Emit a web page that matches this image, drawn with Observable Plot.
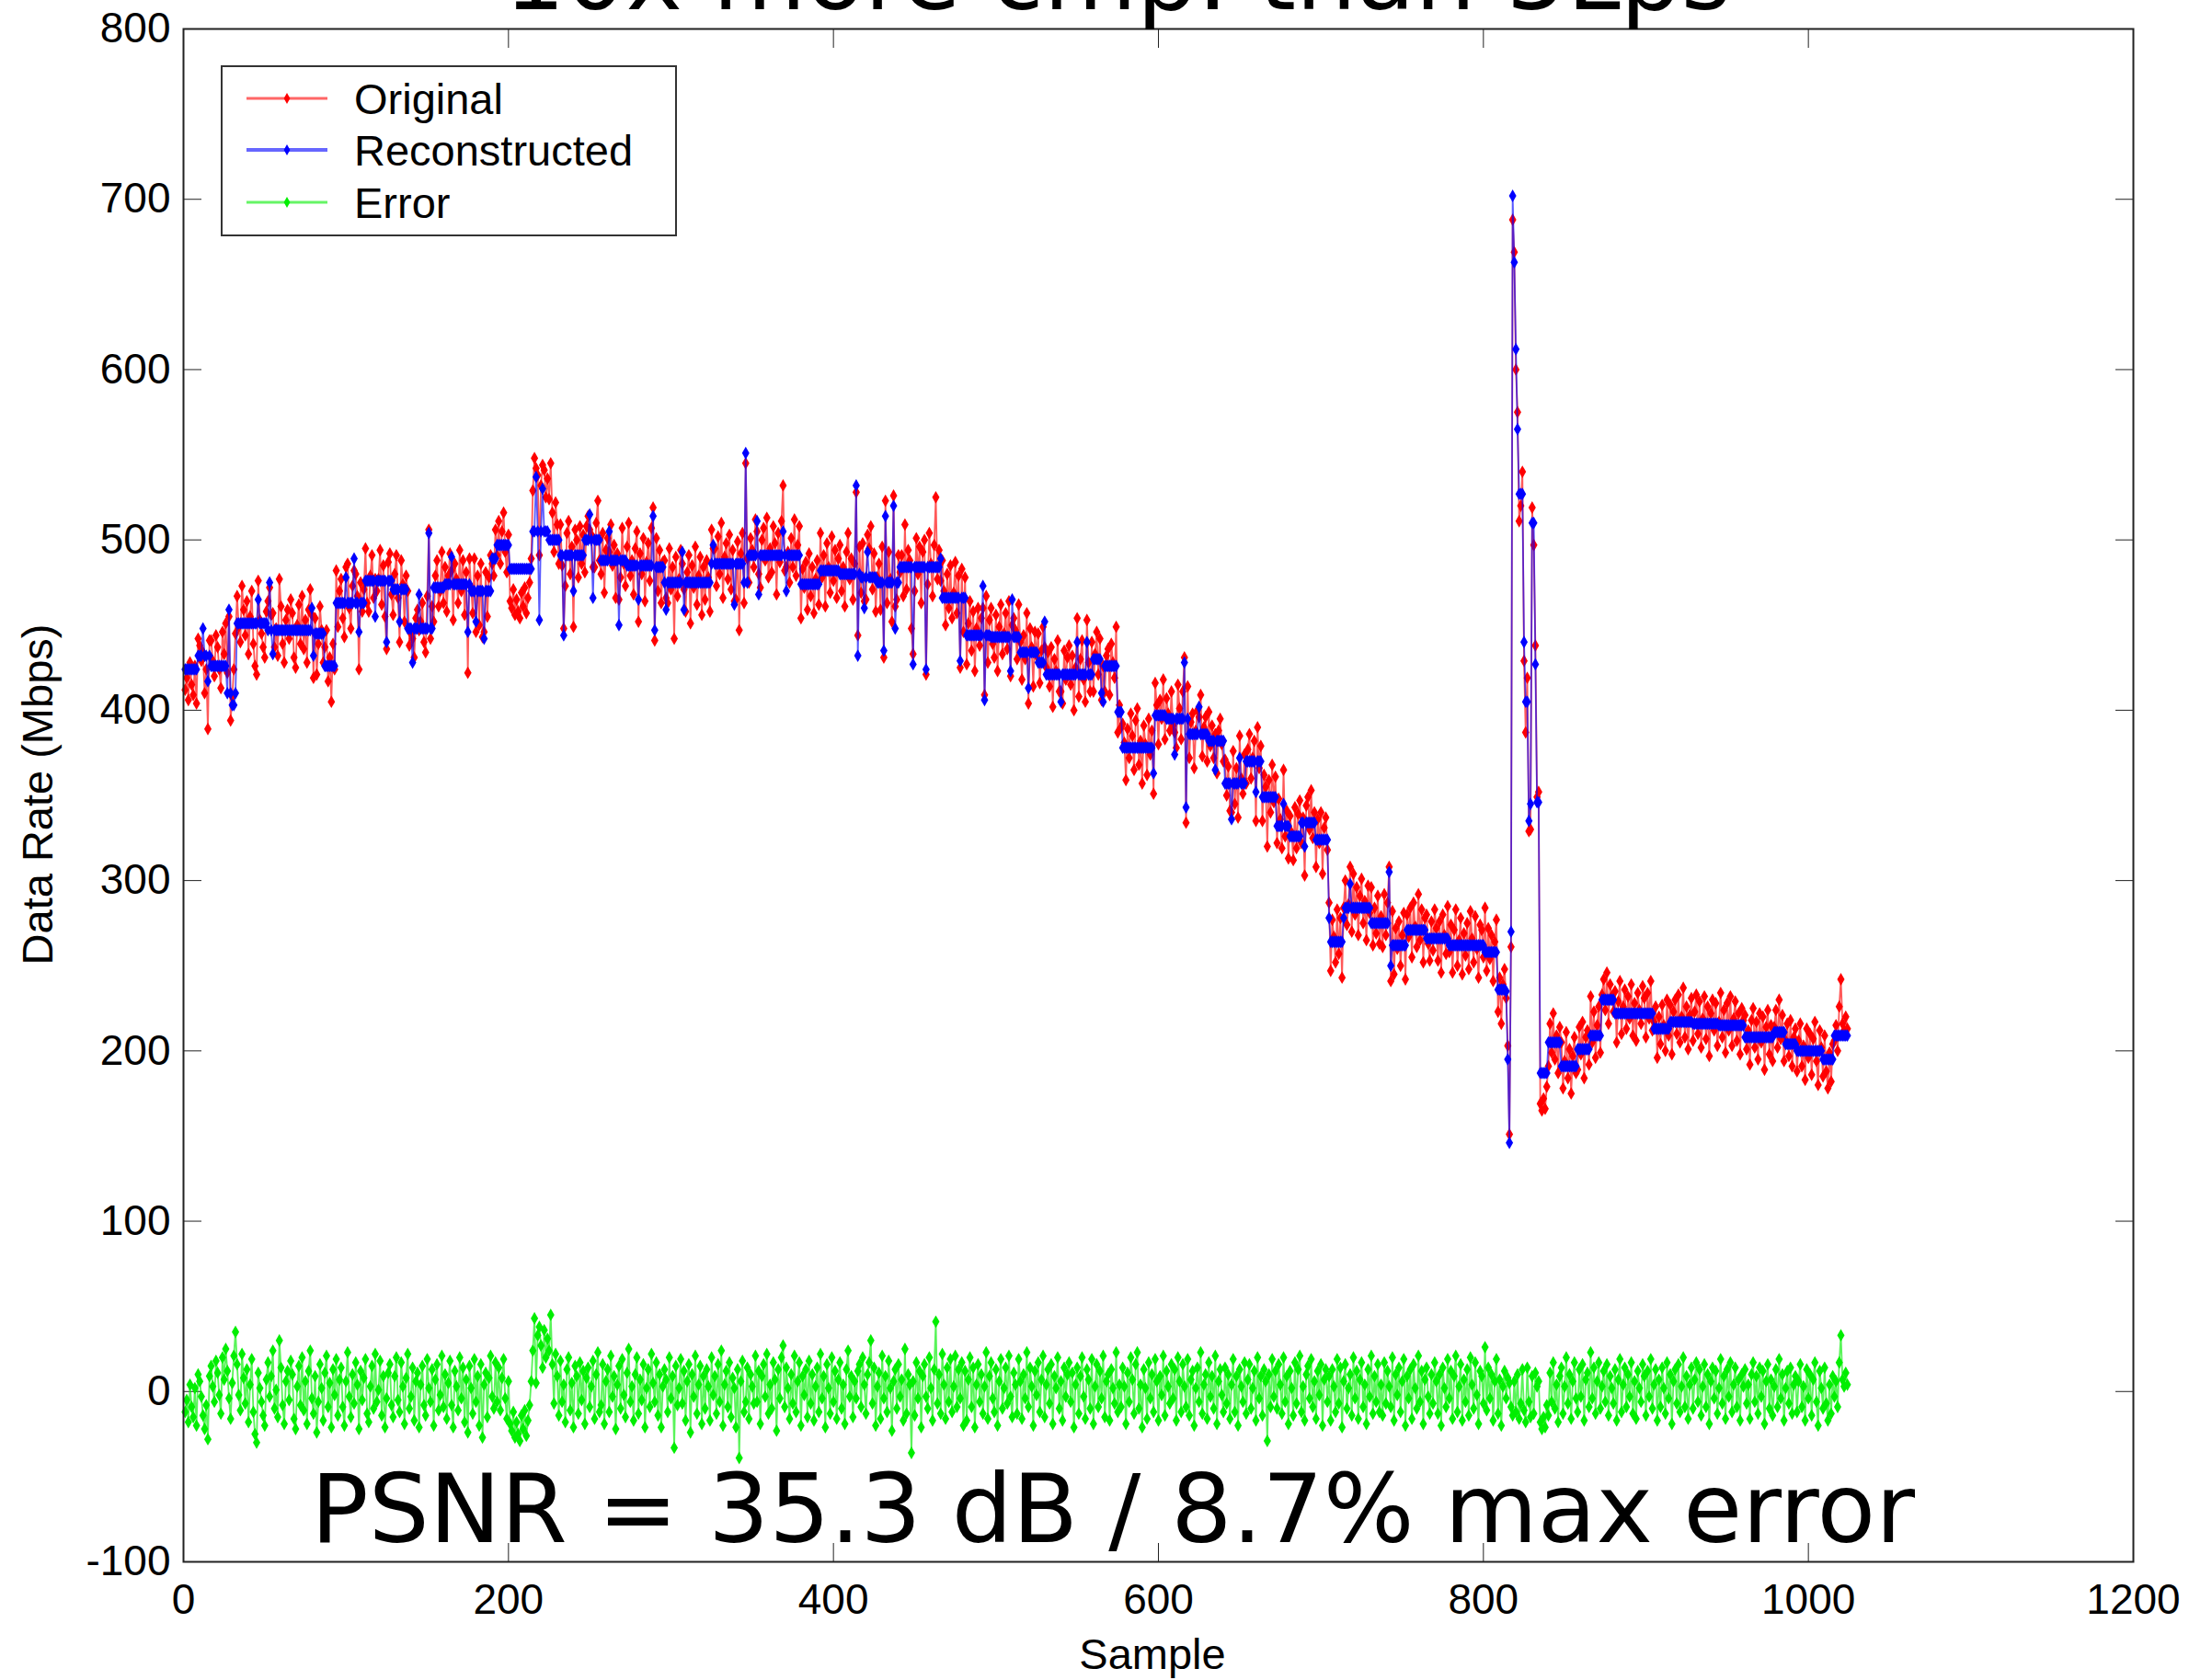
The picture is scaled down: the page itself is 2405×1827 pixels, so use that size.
<!DOCTYPE html>
<html>
<head>
<meta charset="utf-8">
<script src="https://cdn.jsdelivr.net/npm/d3@7"></script>
<script src="https://cdn.jsdelivr.net/npm/@observablehq/plot@0.6"></script>
<style>
  html, body { margin: 0; padding: 0; background: #fff; }
  #chart svg { display: block; }
</style>
</head>
<body>
<div id="chart"></div>
<script>
// Reconstructed data rate (Mbps), one value per sample, samples 1..1024
const reconstructed = [
424,424,424,424,424,424,424,424,432,432,432,448,432,432,417,432,426,426,426,426,426,426,426,426,426,426,410,459,410,403,403,410,
451,451,451,451,451,451,451,451,451,451,451,451,451,465,451,451,451,451,451,447,475,447,433,447,447,447,447,447,447,447,447,447,
447,447,447,447,447,447,447,447,447,447,447,447,447,447,460,432,445,445,445,445,445,445,426,426,426,426,426,426,426,463,463,463,
463,463,463,478,463,463,463,463,489,463,463,446,463,463,463,476,476,476,476,476,476,455,476,476,476,476,476,476,440,476,476,476,
471,471,471,471,452,471,471,471,471,448,448,448,428,448,448,448,468,448,448,448,448,448,504,448,448,472,472,472,472,472,472,472,
474,474,474,474,490,474,474,474,474,474,474,474,474,474,446,474,470,470,470,452,470,470,470,470,442,470,470,470,470,489,489,489,
497,497,497,497,497,497,497,497,483,483,483,483,483,483,483,483,483,483,483,483,483,483,505,505,537,505,453,505,530,505,505,505,
500,500,500,500,500,500,500,491,491,444,491,491,491,491,491,470,491,491,491,491,491,491,500,500,500,515,500,466,500,500,500,500,
488,488,488,488,488,505,488,488,488,488,488,450,488,488,488,488,485,485,485,485,485,485,485,465,485,485,485,485,485,485,485,485,
514,447,484,484,484,484,484,475,459,475,475,475,475,475,475,475,475,475,493,459,475,475,475,475,475,475,475,475,475,475,475,475,
475,475,475,475,486,497,486,486,486,486,486,486,486,486,486,486,486,486,462,486,486,486,486,486,475,551,475,491,491,491,491,491,
511,468,491,491,491,491,491,491,491,491,491,491,491,491,491,491,505,491,470,491,491,491,491,491,491,491,491,474,474,474,474,474,
474,474,474,474,474,474,474,482,482,482,482,482,482,482,482,482,482,482,482,480,480,480,480,480,480,480,480,480,480,532,432,480,
478,478,460,478,493,478,478,478,478,478,475,475,475,475,435,514,475,475,475,475,520,448,475,475,484,484,484,484,484,484,484,484,
427,484,484,484,484,484,484,484,424,484,484,484,484,484,484,484,484,489,466,466,466,466,466,466,466,466,466,466,466,429,466,466,
466,444,444,444,444,444,444,444,444,444,444,473,406,444,444,444,443,443,443,443,443,443,443,443,443,443,443,443,423,465,443,443,
443,443,434,434,434,434,434,413,434,434,434,434,434,428,428,428,428,452,421,421,421,421,421,421,421,421,421,405,421,421,421,421,
421,421,421,421,421,440,421,421,421,421,421,440,421,421,421,430,430,430,430,430,410,405,426,426,426,426,426,426,426,426,399,399,
399,378,378,378,378,378,378,378,378,378,378,378,378,378,378,378,378,378,378,378,363,397,397,397,397,397,397,397,395,395,395,395,
395,374,395,395,395,395,395,428,343,395,386,386,386,386,386,386,402,386,386,386,386,386,382,382,382,382,365,382,382,382,382,382,
357,357,357,357,336,357,357,357,357,372,357,357,357,370,370,370,370,370,370,352,370,370,370,349,349,349,349,349,349,349,349,349,
332,332,332,332,345,332,332,332,326,326,326,326,326,326,326,334,334,320,334,334,334,334,334,334,324,324,324,324,324,324,324,324,
278,264,264,264,264,264,264,264,264,278,284,284,284,298,284,284,284,284,284,284,284,284,284,284,284,284,275,275,275,275,275,275,
275,275,275,275,275,305,250,262,262,262,262,262,262,262,262,262,271,271,271,271,271,271,271,271,271,271,271,271,266,266,266,266,
266,266,266,266,266,266,266,266,266,266,262,262,262,262,262,262,262,262,262,262,262,262,262,262,262,262,262,262,262,262,262,262,
258,258,258,258,258,258,258,258,236,236,236,236,236,235,195,146,270,702,663,612,565,527,527,527,440,405,405,335,345,510,510,427,
346,346,187,187,187,187,187,205,205,205,205,205,205,205,205,191,191,191,191,191,191,191,191,191,191,201,201,201,201,201,201,201,
201,209,209,209,209,209,209,209,230,230,230,230,230,230,230,230,222,222,222,222,222,222,222,222,222,222,222,222,222,222,222,222,
222,222,222,222,222,222,222,222,213,213,213,213,213,213,213,213,213,213,217,217,217,217,217,217,217,217,217,217,217,217,217,217,
216,216,216,216,216,216,216,216,216,216,216,216,216,216,216,216,215,215,215,215,215,215,215,215,215,215,215,215,215,215,215,215,
208,208,208,208,208,208,208,208,208,208,208,208,208,208,208,208,208,208,211,211,211,211,211,211,211,204,204,204,204,204,204,204,
200,200,200,200,200,200,200,200,200,200,200,200,200,200,200,200,195,195,195,195,195,195,195,209,209,209,209,209,209,209,209,209
];

// Reconstruction error (Original − Reconstructed), Mbps, same samples
const error = [
-12,-5,-18,4,-9,-15,2,-20,10,6,-3,-14,-22,-8,-28,9,15,3,-6,18,11,-2,-13,20,7,25,12,-4,-16,5,21,35,
16,-2,-11,22,8,-7,13,-18,4,19,-12,-25,-30,11,2,-6,-14,-20,7,17,-3,9,24,-10,1,-15,30,14,-8,-19,6,12,
-5,18,10,-16,-22,3,15,-8,20,-11,6,-19,12,24,-4,-13,9,-24,-6,16,2,-17,11,21,-9,5,-21,13,-2,19,-14,7,
14,-9,-20,6,23,-3,-15,10,-7,17,4,-22,12,-5,8,19,-13,-18,3,15,-10,22,-6,1,18,-14,9,-21,-4,11,16,-8,
-15,9,20,-5,-12,17,3,-19,8,22,-10,-3,14,-17,6,11,-21,4,15,-8,-14,19,2,-6,13,-20,7,16,-11,-2,21,-9,
10,-16,5,18,-8,-21,12,3,-11,20,-4,14,-18,7,-24,15,2,-13,19,-6,9,-20,16,-27,4,11,-15,8,21,-3,-10,17,
-6,14,-11,8,19,-4,-16,6,-19,-23,-12,-27,-18,-25,-29,-14,-22,-11,-26,-17,-8,6,24,43,5,33,38,27,14,36,20,31,
24,45,16,-7,22,9,-14,18,-6,4,-18,13,20,-11,5,-21,15,9,-13,17,-5,12,-19,8,14,-9,3,18,-16,10,23,-12,
-8,16,-19,6,13,-12,21,-3,9,-22,4,15,-10,19,-2,-15,11,25,-6,3,-17,10,20,-13,7,-5,16,-21,2,13,-9,22,
5,-6,17,-14,10,-21,3,13,7,-12,20,-4,9,-33,15,-8,2,19,-7,12,-17,6,16,-24,10,-3,21,-13,4,15,-19,9,
-10,13,3,-17,20,-2,9,-13,16,-6,24,-20,4,12,-9,17,-15,8,2,-21,13,-39,6,18,-12,-6,14,-16,10,3,-7,21,
-6,12,-19,9,16,-3,22,-13,4,-10,17,7,-23,13,-4,20,27,-9,14,2,-16,10,-7,21,-12,6,17,-20,9,-2,13,-15,
18,-7,10,-17,3,14,-12,22,-4,9,-21,16,2,-13,20,-6,12,-16,7,17,-10,4,-19,13,24,-3,9,-15,6,-4,12,16,
-9,20,4,-13,10,17,30,-7,14,-20,3,11,-16,21,-4,9,-12,18,2,-23,6,13,-10,16,-3,7,-17,25,-13,10,4,-36,
6,-14,17,-4,12,-21,9,16,-3,-10,20,2,-17,13,41,-7,10,-13,22,4,-16,14,-6,19,-12,3,21,-9,13,-4,17,-20,
12,-17,7,20,-9,14,-21,4,16,-6,10,-13,3,23,-16,9,17,-4,-12,13,-20,6,19,-10,2,14,-7,21,-3,-15,11,4,
-13,19,6,-16,10,-4,23,-9,14,3,-20,12,-2,17,-12,7,21,-15,4,13,-7,16,-19,9,2,20,-10,6,-17,14,-3,10,
17,-6,11,-21,4,14,-13,9,20,-3,-16,13,7,-10,19,-19,3,16,-9,12,-4,21,-15,6,10,-17,13,2,-7,23,-12,4,
-9,14,3,-19,11,-6,20,7,-13,16,23,-10,4,-21,13,2,-16,17,-4,10,-12,19,6,-17,9,-2,21,-14,12,3,-7,16,
-4,13,-17,20,6,-12,16,3,-9,19,-14,7,12,-20,2,14,-6,23,-13,4,10,-16,17,-3,9,-10,21,-19,6,13,-2,-12,
14,-7,10,-16,4,19,-12,9,-20,13,3,-6,17,-13,7,16,-10,2,12,-17,20,-4,9,-14,13,6,-29,10,-9,19,-3,12,
-10,16,4,-13,20,-6,9,-19,12,2,-14,17,-7,13,21,-12,3,-17,10,15,-4,19,-9,6,-16,12,-2,16,-20,7,13,-6,
9,-17,13,3,-12,19,-7,14,-21,6,16,-10,2,10,-14,20,-4,12,-16,7,17,-9,4,-19,13,-3,21,-13,9,-6,16,-12,
4,-14,17,-7,12,3,-9,20,-17,10,-2,14,-12,6,19,-20,9,-4,13,-16,16,2,-10,21,-6,12,-19,7,14,-3,-13,10,
-7,17,6,-13,10,-20,14,2,-9,19,-4,12,-16,9,21,-12,3,16,-17,7,-6,13,-14,20,4,-10,17,-2,-19,12,9,-7,
26,-11,14,-4,10,-17,6,19,-13,7,-20,3,12,-4,8,5,-9,-14,6,-12,10,-16,-7,13,-11,-18,14,-6,-15,9,-13,11,
3,6,-18,-22,-15,-21,-8,-14,11,-6,17,-10,4,-18,9,14,-13,3,20,-7,10,-16,6,17,-4,-12,13,-3,16,-17,7,11,
-9,23,-4,14,-13,6,17,-10,3,12,-6,16,-14,9,2,-7,13,-17,7,19,-12,4,14,-9,10,-3,17,-13,6,-16,12,2,
-6,16,9,-14,12,-3,19,-10,4,13,-17,7,-9,14,2,-13,17,-4,10,-19,6,13,-7,16,-12,3,20,-9,9,-16,4,14,
-10,7,17,-6,13,-14,3,16,-9,10,-19,6,14,-4,12,-13,2,19,-7,9,-16,13,-3,17,-12,4,14,-9,7,-17,10,3,
13,-7,4,-16,10,17,-6,9,-13,14,-3,12,-19,6,16,-10,7,-14,3,13,-9,19,-4,10,-17,2,12,-7,14,-13,4,9,
-12,6,16,-9,3,-17,13,-4,10,-14,7,17,-6,-20,12,2,-10,14,-7,-17,4,-13,9,-3,6,-9,17,33,7,3,11,4
];

const seriesNames = ["Original", "Reconstructed", "Error"];
const seriesColors = ["#ff0000", "#0000ff", "#00ee00"];
const xTicks = [0, 200, 400, 600, 800, 1000, 1200];
const yTicks = [-100, 0, 100, 200, 300, 400, 500, 600, 700, 800];
const xLabel = "Sample";
const yLabel = "Data Rate (Mbps)";
const titleText = "10x more cmp. than 5Lps";
const noteText = "PSNR = 35.3 dB / 8.7% max error";

// The original signal is the reconstruction plus its error
const original = reconstructed.map((v, i) => v + error[i]);
const seriesValues = [original, reconstructed, error];

const seriesData = seriesValues.map((vals, k) =>
  vals.map((v, i) => ({sample: i + 1, value: v, series: seriesNames[k]}))
);

// Layout (pixels)
const W = 2405, H = 1827;
const M = {top: 31, right: 86, bottom: 129, left: 199};
const axisFont = "'Liberation Sans', Arial, Helvetica, sans-serif";
const noteFont = "'DejaVu Sans', 'Noto Sans', sans-serif";

const seriesMarks = seriesData.flatMap((d, k) => [
  Plot.line(d, {x: "sample", y: "value", stroke: seriesColors[k], strokeWidth: 1.8, strokeOpacity: 0.65}),
  Plot.dot(d, {x: "sample", y: "value", fill: seriesColors[k], r: 4.2, symbol: "diamond"})
]);

const chart = Plot.plot({
  width: W,
  height: H,
  marginTop: M.top,
  marginRight: M.right,
  marginBottom: M.bottom,
  marginLeft: M.left,
  style: {fontFamily: axisFont, fontSize: "46px", color: "#000", background: "#fff"},
  x: {domain: [0, 1200]},
  y: {domain: [-100, 800]},
  marks: [
    // tick labels
    Plot.axisX({anchor: "bottom", ticks: xTicks, tickSize: 0, tickPadding: 24, label: null, tickFormat: d => String(d), fontSize: 46}),
    Plot.axisY({anchor: "left", ticks: yTicks, tickSize: 0, tickPadding: 14, label: null, tickFormat: d => String(d), fontSize: 46}),
    // inward ticks on all four sides
    Plot.axisX({anchor: "bottom", ticks: xTicks, tickSize: -20, fill: "none", label: null, stroke: "#222"}),
    Plot.axisX({anchor: "top", ticks: xTicks, tickSize: -20, fill: "none", label: null, stroke: "#222"}),
    Plot.axisY({anchor: "left", ticks: yTicks, tickSize: -20, fill: "none", label: null, stroke: "#222"}),
    Plot.axisY({anchor: "right", ticks: yTicks, tickSize: -20, fill: "none", label: null, stroke: "#222"}),
    ...seriesMarks,
    Plot.frame({stroke: "#222", strokeWidth: 2})
  ]
});

document.getElementById("chart").appendChild(chart);

const svg = d3.select(chart);

// Axis titles
svg.append("text")
  .attr("x", 1253).attr("y", 1815)
  .attr("text-anchor", "middle")
  .style("font-family", axisFont).style("font-size", "47px")
  .text(xLabel);

svg.append("text")
  .attr("transform", "translate(57,864) rotate(-90)")
  .attr("text-anchor", "middle")
  .style("font-family", axisFont).style("font-size", "47px")
  .text(yLabel);

// Legend box
const legend = svg.append("g");
legend.append("rect")
  .attr("x", 241).attr("y", 72).attr("width", 494).attr("height", 184)
  .attr("fill", "#fff").attr("stroke", "#333").attr("stroke-width", 2);
const rowY = [107, 163, 220];
seriesNames.forEach((name, k) => {
  legend.append("line")
    .attr("x1", 268).attr("x2", 356).attr("y1", rowY[k]).attr("y2", rowY[k])
    .attr("stroke", seriesColors[k]).attr("stroke-opacity", 0.6).attr("stroke-width", k === 1 ? 4 : 3);
  legend.append("path")
    .attr("d", d3.symbol(d3.symbolDiamond, 40)())
    .attr("transform", `translate(312,${rowY[k]})`)
    .attr("fill", seriesColors[k]);
  legend.append("text")
    .attr("x", 385).attr("y", rowY[k] + 17)
    .attr("text-anchor", "start")
    .style("font-family", axisFont).style("font-size", "47px")
    .text(name);
});

// Slide title (cropped at the top edge) and the quality note
svg.append("text")
  .attr("x", 1215).attr("y", 10)
  .attr("text-anchor", "middle")
  .style("font-family", noteFont).style("font-size", "104px")
  .text(titleText);

svg.append("text")
  .attr("x", 1210).attr("y", 1677)
  .attr("text-anchor", "middle")
  .style("font-family", noteFont).style("font-size", "104px")
  .text(noteText);
</script>
</body>
</html>
